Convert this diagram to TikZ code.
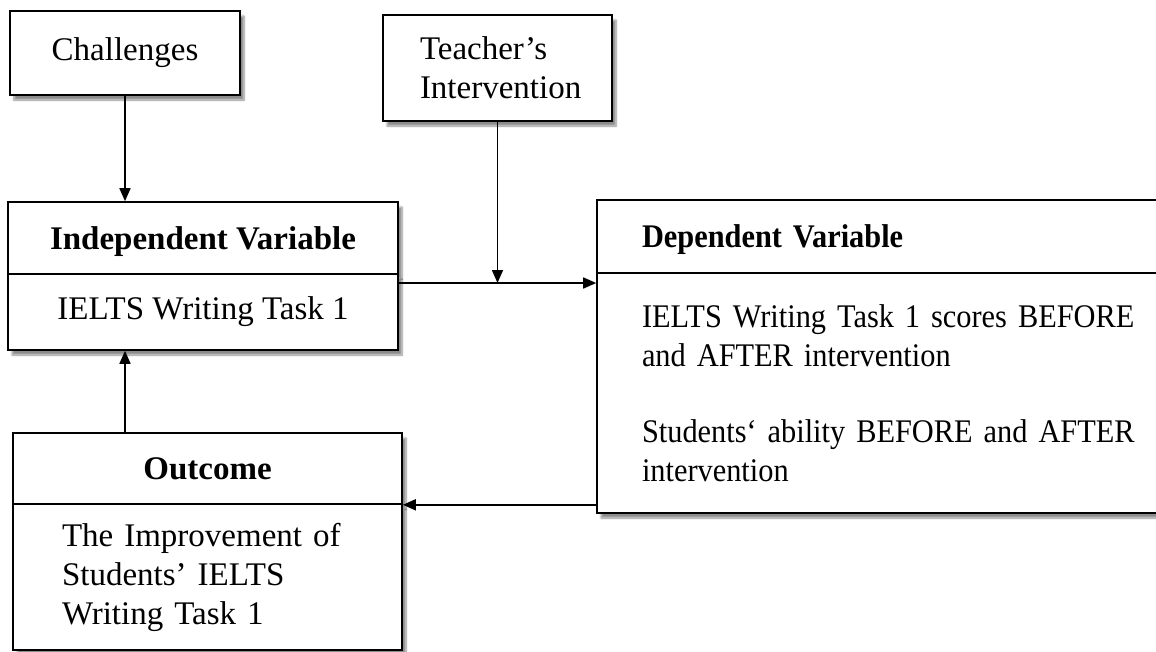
\documentclass[tikz,border=0pt]{standalone}
\usepackage{fontspec}
\setmainfont{Liberation Serif}
\newfontfamily\narrowserif[FakeStretch=0.92]{Liberation Serif}
\usetikzlibrary{arrows.meta,shadows.blur}

\begin{document}
\begin{tikzpicture}[x=1pt,y=-1pt,
	box/.style={draw,line width=1.6pt,fill=white,rectangle,inner sep=0pt,font=\fontsize{33}{39}\selectfont,
		blur shadow={shadow xshift=4pt,shadow yshift=-5pt,shadow blur steps=8,shadow opacity=45}},
	title/.style={text depth=0pt},
	arr/.style={line width=1.6pt,-{Triangle[length=13pt,width=11pt]}}]
	\useasboundingbox (0,0) rectangle (1156,651);

	%challenges and teacher
	\node[box,minimum width=230,minimum height=84] (chal) at (125,53) {Challenges};
	\node[box,minimum width=229,minimum height=106,inner xsep=37pt,text width=155pt,align=left] (teach) at (497.5,68) {Teacher’s\\Intervention};

	%independent
	\node[box,title,minimum width=390,minimum height=72] (indepT) at (203,238) {\textbf{Independent Variable}};
	\node[box,minimum width=390,minimum height=76] (indepB) at (203,312) {IELTS Writing Task 1};

	%dependent
	\node[box,title,minimum width=653,minimum height=73,inner xsep=45pt,text width=563pt,align=left] (depT) at (923.5,236.5) {\narrowserif\textbf{Dependent Variable}};
	\node[box,minimum width=653,minimum height=240,inner xsep=45pt,text width=563pt,align=left] (depB) at (923.5,393) {\narrowserif IELTS Writing Task 1 scores BEFORE\\and AFTER intervention\\[37pt]Students‘ ability BEFORE and AFTER\\intervention};

	%outcome
	\node[box,title,minimum width=389,minimum height=71] (outT) at (207.5,468.5) {\textbf{Outcome}};
	\node[box,minimum width=389,minimum height=146,inner xsep=49pt,text width=291pt,align=left] (outB) at (207.5,577) {The Improvement of\\Students’ IELTS\\Writing Task 1\\[-8pt]};

	%arrows
	\coordinate (junc) at (497.5,283);
	\draw[arr] (chal.south) -- (chal.south |- indepT.north);
	\draw[arr] (teach.south) -- (junc);
	\draw[arr] (indepB.east |- junc) -- (depB.west |- junc);
	\draw[arr] (chal.south |- outT.north) -- (chal.south |- indepB.south);
	\draw[arr] (depB.west |- outT.south east) -- (outT.south east);
\end{tikzpicture}
\end{document}
